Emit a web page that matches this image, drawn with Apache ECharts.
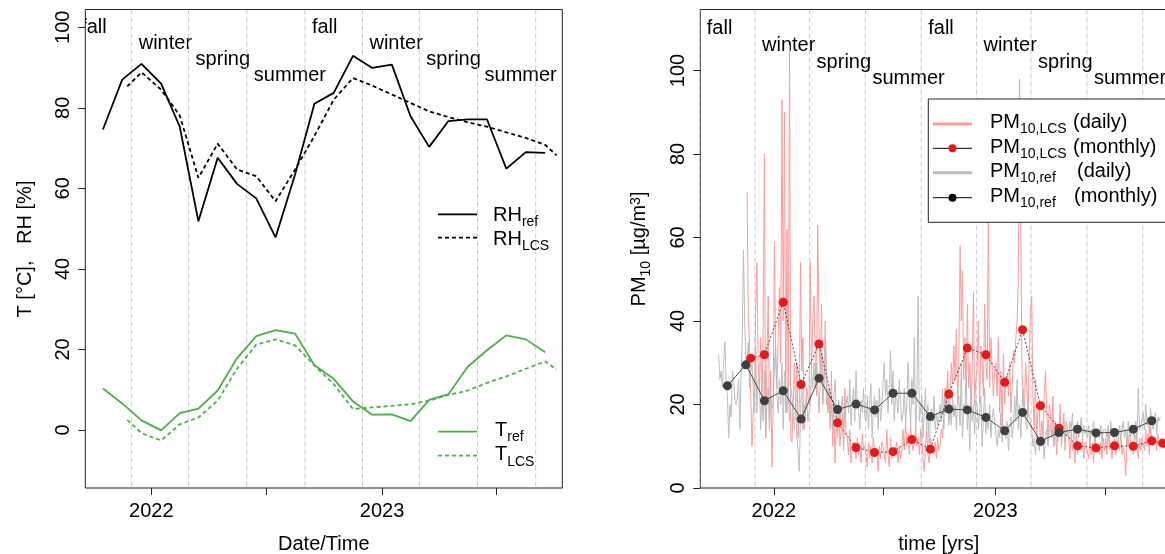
<!DOCTYPE html>
<html>
<head>
<meta charset="utf-8">
<script src="https://cdn.jsdelivr.net/npm/echarts@6/dist/echarts.min.js"></script>
<style>
  html, body { margin: 0; padding: 0; background: #fff; }
  #main { width: 1165px; height: 554px; }
</style>
</head>
<body>
<div id="main"></div>
<script>
// months Oct 2021 .. Oct 2023
const months = ['2021-10','2021-11','2021-12','2022-01','2022-02','2022-03','2022-04','2022-05','2022-06',
  '2022-07','2022-08','2022-09','2022-10','2022-11','2022-12','2023-01','2023-02','2023-03','2023-04',
  '2023-05','2023-06','2023-07','2023-08','2023-09','2023-10'];

// reference station covers Oct 2021 - Sep 2023, low cost sensor Nov 17 2021 - Oct 6 2023
const refSpan = { first: 0, firstDay: 1, lastDay: 30 };
const lcsSpan = { first: 1, firstDay: 17, lastDay: 6 };

// left panel: monthly means
const rhRef = [74.6, 87.0, 90.9, 86.0, 75.3, 51.8, 67.6, 61.1, 57.5, 47.8, 63.5, 81.0,
  83.7, 92.9, 89.9, 90.7, 77.9, 70.3, 76.7, 77.1, 77.1, 64.9, 69.0, 68.8];
const rhLcs = [85.3, 88.8, 84.5, 78.1, 62.6, 71.1, 64.7, 63.0, 56.8, 64.7, 73.0, 82.0,
  87.4, 85.5, 83.3, 81.2, 79.1, 77.7, 76.4, 75.3, 73.9, 72.5, 70.8, 68.2];
const tRef = [10.3, 6.6, 2.4, -0.1, 4.2, 5.3, 9.8, 17.8, 23.3, 24.8, 23.9, 16.1,
  12.7, 7.1, 3.8, 3.9, 2.2, 7.5, 8.9, 15.7, 19.8, 23.5, 22.5, 19.3];
const tLcs = [2.5, -0.8, -2.6, 1.4, 3.1, 7.3, 15.2, 21.2, 22.5, 21.0, 16.0, 11.4,
  5.2, 5.6, 6.0, 6.4, 7.3, 8.7, 9.8, 11.7, 13.3, 15.2, 17.0, 15.0];

// right panel: PM10 monthly means
const pmRefMonthly = [24.5, 29.5, 20.9, 23.3, 16.5, 26.3, 18.8, 20.1, 18.7, 22.7, 22.7, 17.1,
  18.9, 18.7, 16.9, 13.7, 18.1, 11.2, 13.3, 14.1, 13.2, 13.3, 14.1, 16.1];
const pmLcsMonthly = [31.1, 31.9, 44.5, 24.8, 34.5, 15.6, 9.7, 8.5, 8.7, 11.6, 9.3, 22.5,
  33.5, 31.9, 25.3, 37.9, 19.7, 14.3, 10.1, 9.6, 10.1, 10.0, 11.3, 10.7];

// right panel: PM10 daily values (read about every 2 days), one block per month
const pmRefDaily = [
  [32, 26, 28, 24, 30, 35, 26, 22, 12, 20, 17, 28, 26, 21, 20],
  [22, 26, 14, 27, 36, 57, 40, 30, 31, 35, 24, 28, 30, 24, 18],
  [34, 18, 26, 25, 14, 22, 16, 28, 12, 20, 24, 14, 22, 19, 20],
  [30, 34, 22, 18, 26, 20, 30, 14, 28, 22, 18, 25, 16, 24, 22],
  [22, 14, 20, 12, 9, 4, 18, 26, 14, 20, 18, 22, 16, 16],
  [20, 28, 24, 30, 24, 30, 30, 18, 26, 32, 22, 28, 40, 20, 22],
  [24, 16, 20, 14, 22, 26, 18, 12, 21, 16, 19, 22, 14, 18, 20],
  [22, 18, 26, 15, 20, 24, 16, 28, 20, 19, 14, 21, 18, 24, 17],
  [16, 22, 14, 20, 25, 12, 18, 22, 17, 21, 14, 24, 16, 20, 20],
  [30, 22, 26, 18, 24, 33, 20, 28, 16, 22, 21, 18, 26, 20, 16],
  [18, 24, 15, 20, 30, 22, 14, 26, 20, 36, 12, 22, 46, 16, 16],
  [22, 12, 18, 24, 14, 20, 10, 16, 19, 16, 22, 14, 18, 15, 17],
  [20, 16, 24, 14, 22, 18, 26, 15, 19, 15, 22, 17, 20, 14, 21],
  [22, 15, 30, 12, 20, 18, 28, 14, 19, 9, 24, 16, 20, 13, 21],
  [20, 14, 18, 22, 10, 16, 24, 13, 18, 14, 20, 12, 17, 19, 16],
  [16, 10, 14, 12, 18, 11, 15, 13, 12, 16, 9, 14, 17, 12, 15],
  [22, 16, 26, 14, 20, 12, 18, 24, 19, 16, 14, 20, 17, 16],
  [14, 10, 12, 8, 13, 11, 9, 12, 10, 13, 7, 12, 14, 10, 13],
  [15, 12, 14, 10, 16, 13, 11, 15, 14, 13, 12, 16, 11, 14, 13],
  [12, 16, 14, 18, 11, 15, 13, 16, 12, 14, 17, 12, 15, 13, 14],
  [12, 15, 11, 14, 13, 16, 10, 14, 13, 14, 12, 15, 11, 14, 14],
  [14, 12, 15, 11, 16, 13, 12, 14, 13, 13, 10, 15, 12, 14, 16],
  [12, 14, 10, 16, 13, 12, 15, 13, 12, 16, 11, 24, 14, 15, 15],
  [18, 14, 20, 15, 17, 13, 19, 16, 14, 15, 18, 13, 17, 16, 17]
];
const pmLcsDaily = [
  [71, 40, 35, 22, 10, 18, 22],
  [42, 54, 30, 24, 36, 18, 38, 80, 12, 30, 46, 16, 28, 5, 20],
  [59, 30, 24, 36, 48, 30, 93, 40, 90, 18, 62, 20, 106, 12, 11],
  [22, 30, 18, 30, 12, 20, 54, 28, 36, 14, 17, 24, 22, 20],
  [54, 28, 40, 46, 30, 22, 63, 38, 26, 44, 20, 24, 36, 28, 18],
  [22, 14, 28, 10, 18, 6, 16, 12, 20, 10, 14, 18, 9, 24, 13],
  [12, 8, 14, 6, 10, 9, 11, 7, 12, 8, 10, 6, 13, 9, 10],
  [8, 5, 11, 7, 10, 6, 12, 9, 8, 9, 4, 10, 7, 11, 10],
  [10, 6, 14, 8, 5, 12, 7, 9, 8, 8, 11, 6, 10, 7, 9],
  [14, 9, 16, 10, 13, 8, 15, 11, 9, 11, 14, 10, 12, 8, 14],
  [12, 7, 4, 10, 14, 8, 6, 12, 10, 10, 8, 11, 7, 12, 9],
  [10, 14, 12, 18, 24, 20, 28, 16, 22, 30, 25, 34, 26, 38, 20],
  [30, 58, 40, 52, 26, 36, 22, 44, 24, 30, 20, 28, 47, 20, 26],
  [28, 40, 20, 34, 30, 22, 44, 30, 26, 66, 24, 36, 29, 22, 28],
  [30, 22, 36, 18, 28, 14, 32, 20, 26, 27, 22, 30, 18, 24, 33],
  [30, 36, 40, 50, 98, 64, 28, 22, 18, 30, 24, 17, 32, 42],
  [46, 22, 14, 26, 12, 18, 20, 10, 16, 13, 22, 28, 18, 12, 20],
  [18, 12, 22, 10, 16, 8, 14, 13, 20, 10, 14, 18, 9, 16, 14],
  [12, 7, 14, 9, 11, 6, 13, 8, 11, 10, 9, 12, 7, 11, 10],
  [10, 7, 12, 8, 11, 6, 13, 9, 10, 10, 8, 11, 7, 12, 9],
  [12, 8, 14, 9, 11, 7, 10, 12, 8, 10, 11, 9, 13, 8, 10],
  [8, 3, 12, 10, 14, 9, 11, 8, 13, 12, 10, 7, 12, 9, 12],
  [12, 9, 14, 10, 13, 8, 15, 11, 10, 11, 12, 9, 13, 10, 12],
  [10, 11]
];

// season boundaries and labels
const seasonLines = ['2021-09-01','2021-12-01','2022-03-01','2022-06-01','2022-09-01',
  '2022-12-01','2023-03-01','2023-06-01','2023-09-01'];
const seasonNames = ['fall','winter','spring','summer','fall','winter','spring','summer',''];

const xTicks = [2022, 2022.496, 2023, 2023.496];
const xLabels = [2022, 2023];
const yTicks = [0, 20, 40, 60, 80, 100];

const font = '"Liberation Sans", Arial, sans-serif';

function decYear(y, m, d) {
  const t0 = Date.UTC(y, 0, 1), t1 = Date.UTC(y + 1, 0, 1);
  return y + (Date.UTC(y, m - 1, 1) + (d - 1) * 864e5 - t0) / (t1 - t0);
}
function dateYear(s) {
  const p = s.split('-').map(Number);
  return decYear(p[0], p[1], p[2]);
}
function monthSpan(k, span, n) {
  const p = months[k].split('-').map(Number);
  const last = span.first + n - 1;
  const s = k === span.first ? span.firstDay : 1;
  const e = k === last ? span.lastDay : new Date(Date.UTC(p[0], p[1], 0)).getUTCDate();
  return { y: p[0], m: p[1], s: s, e: e };
}
function monthly(values, span) {
  return values.map(function (v, i) {
    const ms = monthSpan(span.first + i, span, values.length);
    return [decYear(ms.y, ms.m, (ms.s + ms.e + 1) / 2), v];
  });
}
function daily(blocks, span) {
  const out = [];
  blocks.forEach(function (vals, i) {
    const ms = monthSpan(span.first + i, span, blocks.length);
    vals.forEach(function (v, j) {
      const d = ms.s + (j + 0.5) * (ms.e - ms.s + 1) / vals.length;
      out.push([decYear(ms.y, ms.m, d), v]);
    });
  });
  return out;
}

function xAxisFor(i, min, max) {
  return {
    type: 'value', gridIndex: i, min: min, max: max,
    axisLine: { show: false, onZero: false },
    axisTick: { show: true, length: 7, customValues: xTicks, lineStyle: { color: '#222' } },
    axisLabel: { customValues: xLabels, formatter: function (v) { return String(Math.round(v)); },
      fontSize: 20, color: '#000', fontFamily: font, margin: 13 },
    splitLine: { show: false }
  };
}
function yAxisFor(i, min, max) {
  return {
    type: 'value', gridIndex: i, min: min, max: max,
    axisLine: { show: false, onZero: false },
    axisTick: { show: true, length: 7, customValues: yTicks, lineStyle: { color: '#222' } },
    axisLabel: { customValues: yTicks, rotate: 90, fontSize: 20, color: '#000', fontFamily: font, margin: 12 },
    splitLine: { show: false }
  };
}
function seasonSeries(i, levels) {
  return {
    type: 'custom', xAxisIndex: i, yAxisIndex: i, clip: true, silent: true, z: 1,
    data: seasonLines.map(function (d, j) { return [dateYear(d), levels[j % 4], j]; }),
    renderItem: function (params, api) {
      const p = api.coord([api.value(0), api.value(1)]);
      const cs = params.coordSys;
      return {
        type: 'group',
        children: [
          { type: 'line', shape: { x1: p[0], y1: cs.y, x2: p[0], y2: cs.y + cs.height },
            style: { stroke: '#c8c8c8', lineWidth: 1, lineDash: [5, 3] } },
          { type: 'text', x: p[0] + 7, y: p[1],
            style: { text: seasonNames[api.value(2)], fill: '#000', fontSize: 20, fontFamily: font,
              align: 'left', verticalAlign: 'middle' } }
        ]
      };
    }
  };
}
function lineSeries(i, data, color, width, type, z) {
  return { type: 'line', xAxisIndex: i, yAxisIndex: i, data: data, showSymbol: false, silent: true, z: z,
    lineStyle: { color: color, width: width, type: type } };
}
function dotSeries(data, dotColor, lineType) {
  return { type: 'line', xAxisIndex: 1, yAxisIndex: 1, data: data, silent: true, z: 5,
    symbol: 'circle', symbolSize: 9, showSymbol: true,
    itemStyle: { color: dotColor, borderWidth: 0 },
    lineStyle: { color: '#222', width: 0.8, type: lineType } };
}

// rich text helpers for sub-/superscripts
const richStyle = {
  m: { fontSize: 20, fontFamily: font, fill: '#000', lineHeight: 20, verticalAlign: 'top' },
  s: { fontSize: 14, fontFamily: font, fill: '#000', lineHeight: 14, verticalAlign: 'top', padding: [10, 0, 0, 0] },
  p: { fontSize: 14, fontFamily: font, fill: '#000', lineHeight: 14, verticalAlign: 'top' }
};
function richText(x, capY, str, extra) {
  return Object.assign({ type: 'text', x: x, y: capY - 10, z: 100, silent: true,
    style: { text: str, rich: richStyle, align: 'left', verticalAlign: 'top' } }, extra || {});
}
function plainText(x, y, str, extra) {
  return Object.assign({ type: 'text', x: x, y: y, z: 100, silent: true,
    style: { text: str, fontSize: 20, fontFamily: font, fill: '#000', align: 'center', verticalAlign: 'middle' } }, extra || {});
}
function legLine(x1, x2, y, color, width, dash) {
  return { type: 'line', z: 100, silent: true, shape: { x1: x1, y1: y, x2: x2, y2: y },
    style: { stroke: color, lineWidth: width, lineDash: dash || null } };
}
function legDot(x, y, color) {
  return { type: 'circle', z: 101, silent: true, shape: { cx: x, cy: y, r: 4 }, style: { fill: color } };
}

const green = '#4DAF4A';
const chart = echarts.init(document.getElementById('main'));
chart.setOption({
  animation: false,
  textStyle: { fontFamily: font },
  grid: [
    { left: 85.3, top: 9.5, width: 477, height: 478.5, show: true, borderColor: '#222', borderWidth: 1, outerBoundsMode: 'none' },
    { left: 700.3, top: 9.5, width: 477, height: 478.5, show: true, borderColor: '#222', borderWidth: 1, outerBoundsMode: 'none' }
  ],
  xAxis: [xAxisFor(0, 2021.714, 2023.781), xAxisFor(1, 2021.668, 2023.822)],
  yAxis: [yAxisFor(0, -14.4, 104.4), yAxisFor(1, 0, 114.6)],
  series: [
    seasonSeries(0, [100, 96, 92, 88]),
    seasonSeries(1, [110, 106, 102, 98]),
    lineSeries(0, monthly(rhRef, refSpan), '#000', 1.8, 'solid', 3),
    lineSeries(0, monthly(rhLcs, lcsSpan), '#000', 1.8, [4, 3], 3),
    lineSeries(0, monthly(tRef, refSpan), green, 1.8, 'solid', 3),
    lineSeries(0, monthly(tLcs, lcsSpan), green, 1.8, [4, 3], 3),
    lineSeries(1, daily(pmLcsDaily, lcsSpan), '#ff9a9a', 1, 'solid', 2),
    lineSeries(1, daily(pmRefDaily, refSpan), '#bcbcbc', 1, 'solid', 3),
    dotSeries(monthly(pmLcsMonthly, lcsSpan), '#E41A1C', [2, 2]),
    dotSeries(monthly(pmRefMonthly, refSpan), '#404040', 'solid')
  ],
  graphic: [
    // left legend
    legLine(438, 477, 214.3, '#000', 1.8),
    legLine(438, 477, 237.7, '#000', 1.8, [4, 3]),
    richText(493, 215.5, '{m|RH}{s|ref}'),
    richText(493, 239.2, '{m|RH}{s|LCS}'),
    legLine(438, 477, 431.7, green, 1.8),
    legLine(438, 477, 455.7, green, 1.8, [4, 3]),
    richText(495, 430, '{m|T}{s|ref}'),
    richText(495, 454.7, '{m|T}{s|LCS}'),
    // right legend
    { type: 'rect', z: 99, silent: true, shape: { x: 928.3, y: 99, width: 300, height: 123.3 },
      style: { fill: '#fff', stroke: '#222', lineWidth: 1 } },
    legLine(933, 972, 124, '#ff9a9a', 3),
    legLine(933, 972, 148.3, '#000', 1),
    legDot(952.5, 148.3, '#E41A1C'),
    legLine(933, 972, 172.7, '#bcbcbc', 3),
    legLine(933, 972, 197.7, '#000', 1),
    legDot(952.5, 197.7, '#000'),
    richText(990, 122.5, '{m|PM}{s|10,LCS}'),
    richText(990, 147, '{m|PM}{s|10,LCS}'),
    richText(990, 171.5, '{m|PM}{s|10,ref}'),
    richText(990, 196.5, '{m|PM}{s|10,ref}'),
    richText(1073, 122.5, '{m|(daily)}'),
    richText(1073, 147, '{m|(monthly)}'),
    richText(1077, 171.5, '{m|(daily)}'),
    richText(1074, 196.5, '{m|(monthly)}'),
    // axis titles
    plainText(323.8, 544.7, 'Date/Time'),
    plainText(938.8, 544.7, 'time [yrs]'),
    plainText(25, 249, 'T [°C],   RH [%]', { rotation: Math.PI / 2 }),
    { type: 'text', x: 639, y: 249, z: 100, silent: true, rotation: Math.PI / 2,
      style: { text: '{m|PM}{s|10}{m| [µg/m}{p|3}{m|]}', rich: richStyle, align: 'center', verticalAlign: 'middle' } }
  ]
});
</script>
</body>
</html>
